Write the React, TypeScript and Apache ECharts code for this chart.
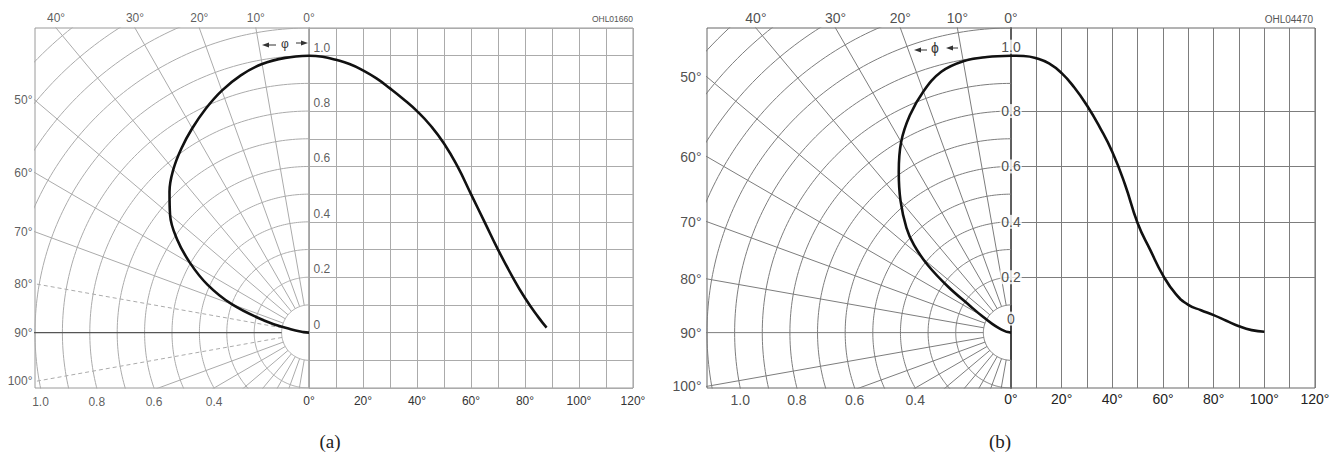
import React, { useEffect, useRef } from "react";
import * as echarts from "echarts";

// ---------- Data: panel (a) OHL01660 ----------
const aPolarAngles = [0, 5, 10, 15, 20, 25, 30, 35, 40, 45, 50, 55, 60, 65, 70, 75, 80, 85, 90];
const aPolarValues = [1.0, 0.996, 0.985, 0.962, 0.93, 0.892, 0.852, 0.812, 0.77, 0.72, 0.662, 0.588, 0.5, 0.408, 0.3, 0.17, 0.068, 0.02, 0];
const aLinearAngles = [0, 5, 10, 15, 20, 25, 30, 35, 40, 45, 50, 55, 60, 65, 70, 75, 80, 85, 88];
const aLinearValues = [1.0, 0.996, 0.985, 0.97, 0.947, 0.918, 0.882, 0.843, 0.8, 0.748, 0.683, 0.6, 0.5, 0.4, 0.3, 0.208, 0.125, 0.055, 0.018];

// ---------- Data: panel (b) OHL04470 ----------
const bPolarAngles = [0, 5, 10, 15, 20, 25, 30, 35, 40, 45, 48, 51, 54, 57, 60, 65, 70, 75, 80, 90];
const bPolarValues = [1.0, 0.999, 0.995, 0.975, 0.927, 0.866, 0.795, 0.708, 0.622, 0.535, 0.472, 0.388, 0.28, 0.175, 0.125, 0.075, 0.045, 0.025, 0.012, 0];
const bLinearAngles = [0, 5, 10, 15, 20, 25, 30, 35, 40, 45, 50, 55, 60, 65, 70, 75, 80, 85, 90, 95, 100];
const bLinearValues = [1.0, 0.999, 0.991, 0.972, 0.937, 0.885, 0.82, 0.742, 0.652, 0.535, 0.395, 0.298, 0.207, 0.14, 0.1, 0.081, 0.063, 0.043, 0.023, 0.009, 0.003];

// ---------- Axis / grid values ----------
const circleRadii = [0.1, 0.2, 0.3, 0.4, 0.5, 0.6, 0.7, 0.8, 0.9, 1.0, 1.1, 1.2, 1.3, 1.4, 1.5, 1.6];
const radialAngles = [0, 10, 20, 30, 40, 50, 60, 70, 80, 90, 100, 110, 120, 130, 140, 150, 160, 170, 180];
const topAngleLabels = [0, 10, 20, 30, 40];
const leftAngleLabels = [50, 60, 70, 80, 90, 100];
const bottomRadiusLabels = [1.0, 0.8, 0.6, 0.4];
const intensityLabels = [0, 0.2, 0.4, 0.6, 0.8, 1.0];
const Y_MIN = -0.2;
const Y_MAX = 1.1;
const X_MAX_DEG = 120;

const FONT = "'Liberation Sans', Arial, Helvetica, sans-serif";

const panelA = {
  left: 35, mid: 309, right: 633, top: 28, bottom: 388, rMax: 1.0,
  grid: "#ababab", frame: "#9a9a9a", axis: "#9a9a9a", axisWidth: 1,
  text: "#333", fontSize: 12, dashed: [80, 100], horizon: "#555",
  centeredY: false, code: "OHL01660", codeSize: 8.5, codeX: 633,
  caption: "(a)", captionX: 330,
  polarAngles: aPolarAngles, polarValues: aPolarValues,
  linearAngles: aLinearAngles, linearValues: aLinearValues,
  topDist: 4, leftDist: 2, bottomMargin: 7,
};
const panelB = {
  left: 707, mid: 1011, right: 1315, top: 28, bottom: 388, rMax: 1.1,
  grid: "#7d7d7d", frame: "#666", axis: "#333", axisWidth: 1.6,
  text: "#222", fontSize: 14, dashed: [] as number[], horizon: "#7d7d7d",
  centeredY: true, code: "OHL04470", codeSize: 10, codeX: 1313,
  caption: "(b)", captionX: 1000,
  polarAngles: bPolarAngles, polarValues: bPolarValues,
  linearAngles: bLinearAngles, linearValues: bLinearValues,
  topDist: 3, leftDist: 5, bottomMargin: 4,
};

function polarXY(deg: number, r: number): [number, number] {
  const t = (deg * Math.PI) / 180;
  return [-r * Math.sin(t), r * Math.cos(t)];
}

function buildPanel(p: any, k: number, out: any) {
  const gl = k * 2;
  const gr = k * 2 + 1;
  const h = p.bottom - p.top;
  out.grid.push({ left: p.left, top: p.top, width: p.mid - p.left, height: h, show: true, borderColor: p.frame, borderWidth: 1, backgroundColor: "transparent" });
  out.grid.push({ left: p.mid, top: p.top, width: p.right - p.mid, height: h, show: true, borderColor: p.frame, borderWidth: 1, backgroundColor: "transparent" });

  out.xAxis.push({ gridIndex: gl, type: "value", min: -p.rMax, max: 0, show: false });
  out.yAxis.push({ gridIndex: gl, type: "value", min: Y_MIN, max: Y_MAX, show: false });
  out.xAxis.push({
    gridIndex: gr, type: "value", min: 0, max: X_MAX_DEG, interval: 10,
    axisLine: { show: false }, axisTick: { show: false },
    splitLine: { show: true, lineStyle: { color: p.grid, width: 1 } },
    axisLabel: {
      margin: p.bottomMargin, fontSize: p.fontSize, color: p.text, fontFamily: FONT,
      formatter: (v: number) => (Math.round(v) % 20 === 0 ? `${Math.round(v)}°` : ""),
    },
  });
  out.yAxis.push({
    gridIndex: gr, type: "value", min: Y_MIN, max: Y_MAX, interval: 0.1,
    axisLine: { show: true, lineStyle: { color: p.axis, width: p.axisWidth } },
    axisTick: p.centeredY
      ? { show: true, inside: false, length: 5, customValues: [0.2, 0.4, 0.6, 0.8], lineStyle: { color: p.axis } }
      : { show: false },
    axisLabel: { show: false },
    splitLine: { show: true, lineStyle: { color: p.grid, width: 1 } },
  });

  const gridLine = (data: number[][], color: string, width: number, type: any) => ({
    type: "line", xAxisIndex: gl, yAxisIndex: gl, data, symbol: "none", silent: true,
    lineStyle: { color, width, type }, z: 1, clip: true,
  });

  // polar circles
  circleRadii.forEach((r) => {
    const pts: number[][] = [];
    for (let d = 0; d <= 180; d += 1) pts.push(polarXY(d, r));
    out.series.push(gridLine(pts, p.grid, 1, "solid"));
  });
  // radial lines
  radialAngles.forEach((d) => {
    const pts = [polarXY(d, 0.1), polarXY(d, 2.5)];
    const dashed = p.dashed.includes(d);
    const color = d === 90 ? p.horizon : p.grid;
    out.series.push(gridLine(pts, color, d === 90 && !p.centeredY ? 1.3 : 1, dashed ? [4, 3] : "solid"));
  });

  // polar curve
  out.series.push({
    type: "line", xAxisIndex: gl, yAxisIndex: gl, symbol: "none", smooth: 0.4, silent: true, z: 10,
    data: p.polarAngles.map((a: number, i: number) => polarXY(a, p.polarValues[i])),
    lineStyle: { color: "#111", width: 2.6 },
  });
  // linear curve
  out.series.push({
    type: "line", xAxisIndex: gr, yAxisIndex: gr, symbol: "none", smooth: 0.5, silent: true, z: 10,
    data: p.linearAngles.map((a: number, i: number) => [a, p.linearValues[i]]),
    lineStyle: { color: "#111", width: 2.6 },
  });

  const labelScatter = (axis: number, data: any[], label: any) => ({
    type: "scatter", xAxisIndex: axis, yAxisIndex: axis, symbol: "circle", symbolSize: 1, silent: true, clip: false, z: 12,
    itemStyle: { color: "rgba(0,0,0,0)" },
    label: { show: true, formatter: "{b}", color: p.text, fontSize: p.fontSize, fontFamily: FONT, ...label },
    data,
  });

  // top angle labels (where radial lines meet top frame)
  out.series.push(labelScatter(gl,
    topAngleLabels.map((d) => ({ name: `${d}°`, value: [-Y_MAX * Math.tan((d * Math.PI) / 180), Y_MAX] })),
    { position: "top", distance: p.topDist }));
  // left angle labels (where radial lines meet left frame)
  out.series.push(labelScatter(gl,
    leftAngleLabels.map((d) => ({ name: `${d}°`, value: [-p.rMax, p.rMax / Math.tan((d * Math.PI) / 180)] })),
    { position: "left", distance: p.leftDist }));
  // bottom radius labels (where circles meet bottom frame)
  out.series.push(labelScatter(gl,
    bottomRadiusLabels.map((r) => ({ name: r.toFixed(1), value: [-Math.sqrt(r * r - Y_MIN * Y_MIN), Y_MIN] })),
    { position: "bottom", distance: p.bottomMargin }));
  // intensity labels on 0° axis
  if (p.centeredY) {
    out.series.push(labelScatter(gr,
      intensityLabels.map((v) => ({
        name: v === 0 ? "0" : v.toFixed(1), value: [0, v],
        label: { offset: v === 0 ? [0, -14] : v === 1 ? [0, -9] : [0, 0] },
      })),
      { position: "inside", backgroundColor: "#fff", padding: [0, 1] }));
  } else {
    out.series.push(labelScatter(gr,
      intensityLabels.map((v) => ({ name: v === 0 ? "0" : v.toFixed(1), value: [0, v] })),
      { position: "right", distance: 4, offset: [0, -8] }));
  }

  // code + caption
  out.graphic.push({
    type: "text", x: p.codeX, y: 19,
    style: { text: p.code, fill: "#555", font: `${p.codeSize}px ${FONT}`, align: "right", verticalAlign: "middle" },
  });
  out.graphic.push({
    type: "text", x: p.captionX, y: 441,
    style: { text: p.caption, fill: "#222", font: "19px 'Liberation Serif', 'Times New Roman', serif", align: "center", verticalAlign: "middle" },
  });
}

function arrow(out: any, tipX: number, tipY: number, dir: number, tail: number) {
  out.graphic.push({
    type: "polygon",
    shape: { points: [[tipX, tipY], [tipX - dir * 7, tipY - 2.6], [tipX - dir * 7, tipY + 2.6]] },
    style: { fill: "#333" },
  });
  out.graphic.push({
    type: "line",
    shape: { x1: tipX - dir * 6, y1: tipY, x2: tipX - dir * tail, y2: tipY },
    style: { stroke: "#333", lineWidth: 1 },
  });
}

export default function App() {
  const ref = useRef<HTMLDivElement>(null);
  useEffect(() => {
    if (!ref.current) return;
    const chart = echarts.init(ref.current, undefined, { renderer: "svg" });
    const out: any = { grid: [], xAxis: [], yAxis: [], series: [], graphic: [] };
    buildPanel(panelA, 0, out);
    buildPanel(panelB, 1, out);

    // phi annotations
    out.graphic.push({ type: "text", x: 285, y: 44, style: { text: "φ", fill: "#333", font: `12px ${FONT}`, align: "center", verticalAlign: "middle" } });
    arrow(out, 262, 45, -1, 14);
    arrow(out, 308, 43, 1, 12);
    out.graphic.push({ type: "text", x: 935, y: 48, style: { text: "ϕ", fill: "#333", font: `14px ${FONT}`, align: "center", verticalAlign: "middle" } });
    arrow(out, 914, 50, -1, 13);
    arrow(out, 946, 48, -1, 12);

    chart.setOption({
      animation: false,
      backgroundColor: "#fff",
      grid: out.grid,
      xAxis: out.xAxis,
      yAxis: out.yAxis,
      series: out.series,
      graphic: out.graphic,
    });
    return () => chart.dispose();
  }, []);
  return (
    <div
      ref={ref}
      style={{ position: "absolute", left: 0, top: 0, width: 1333, height: 468, background: "#fff" }}
    />
  );
}
